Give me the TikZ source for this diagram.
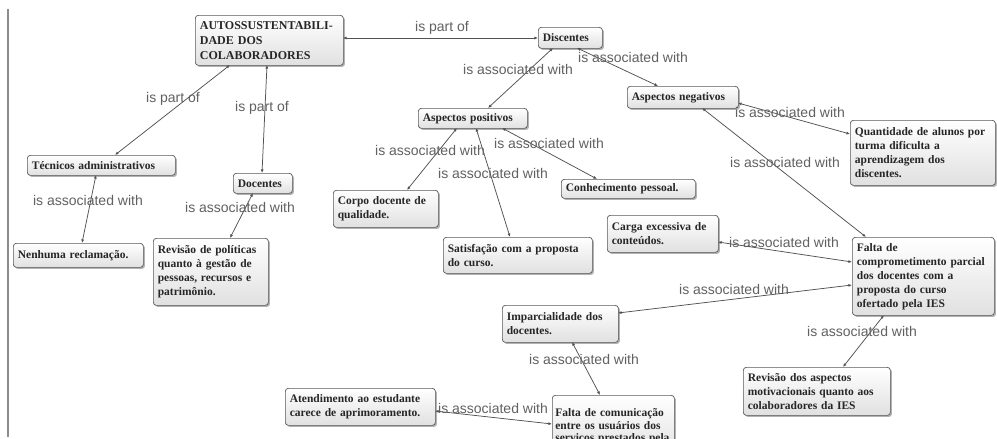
\documentclass[tikz,border=0pt]{standalone}
\usepackage{fontspec}
\setmainfont{Liberation Serif}
\newfontfamily\labfont{Liberation Sans}
\usetikzlibrary{shadows,calc,arrows.meta}
\tikzset{
  concept/.style={draw=black!65, line width=0.7pt, rounded corners=3pt,
    top color=white, bottom color=black!12,
    drop shadow={shadow xshift=1.6pt, shadow yshift=-1.6pt, opacity=0.55, fill=black!55},
    font=\fontsize{11.5}{14}\selectfont\bfseries, align=left,
    inner xsep=4pt, inner ysep=3pt, anchor=north west, text=black!85},
  lab/.style={font=\labfont\fontsize{14}{16}\selectfont, text=black!62, inner sep=0pt},
  conn/.style={draw=black!68, line width=0.75pt,
    {Latex[length=3.6pt,width=3pt]}-{Latex[length=3.6pt,width=3pt]}}
}
\begin{document}
\begin{tikzpicture}[x=1pt,y=-1pt]
\useasboundingbox (0,0) rectangle (997,439);
\clip (0,0) rectangle (997,439);
\fill[white] (0,0) rectangle (997,439);
\draw[black!45, line width=1.2pt] (8,9) -- (8,437);

% concepts
\node[concept, text width=139pt, minimum width=148pt, minimum height=50pt,
  font=\fontsize{12}{15}\selectfont\bfseries] (auto) at (195,15)
  {AUTOSSUSTENTABILI-\\DADE DOS\\COLABORADORES};
\node[concept, text width=55pt, minimum width=64pt, minimum height=21pt] (disc) at (538,27) {Discentes};
\node[concept, text width=100pt, minimum width=109pt, minimum height=20pt] (apos) at (418,108) {Aspectos positivos};
\node[concept, text width=102pt, minimum width=111pt, minimum height=22pt] (aneg) at (627,86) {Aspectos negativos};
\node[concept, text width=136pt, minimum width=145pt, minimum height=65pt] (quant) at (850,120)
  {Quantidade de alunos por\\turma dificulta a\\aprendizagem dos\\discentes.};
\node[concept, text width=139pt, minimum width=148pt, minimum height=20pt] (tec) at (27,155) {Técnicos administrativos};
\node[concept, text width=50pt, minimum width=59pt, minimum height=20pt] (doc) at (233,173) {Docentes};
\node[concept, text width=121pt, minimum width=130pt, minimum height=24pt] (nenh) at (13,243) {Nenhuma reclamação.};
\node[concept, text width=106pt, minimum width=115pt, minimum height=67pt] (revpol) at (153,238)
  {Revisão de políticas\\quanto à gestão de\\pessoas, recursos e\\patrimônio.};
\node[concept, text width=96pt, minimum width=105pt, minimum height=37pt] (corpo) at (333,190)
  {Corpo docente de\\qualidade.};
\node[concept, text width=140pt, minimum width=149pt, minimum height=36pt] (satis) at (443,237)
  {Satisfação com a proposta\\do curso.};
\node[concept, text width=125pt, minimum width=134pt, minimum height=19pt] (conhec) at (561,179) {Conhecimento pessoal.};
\node[concept, text width=102pt, minimum width=111pt, minimum height=37pt] (carga) at (607,215)
  {Carga excessiva de\\conteúdos.};
\node[concept, text width=133pt, minimum width=142pt, minimum height=78pt] (fcomp) at (852,237)
  {Falta de\\comprometimento parcial\\dos docentes com a\\proposta do curso\\ofertado pela IES};
\node[concept, text width=107pt, minimum width=116pt, minimum height=37pt] (impar) at (502,305)
  {Imparcialidade dos\\docentes.};
\node[concept, text width=141pt, minimum width=150pt, minimum height=37pt] (atend) at (285,388)
  {Atendimento ao estudante\\carece de aprimoramento.};
\node[concept, inner xsep=2.5pt, inner ysep=2pt, text width=116pt, minimum width=122pt, minimum height=62pt,
  font=\fontsize{11.5}{12.8}\selectfont\bfseries] (fcom) at (552,395)
  {Falta de comunicação\\entre os usuários dos\\serviços prestados pela};
\node[concept, text width=138pt, minimum width=147pt, minimum height=48pt] (revasp) at (743,367)
  {Revisão dos aspectos\\motivacionais quanto aos\\colaboradores da IES};

% connectors
\draw[conn] ($(disc.north west)+(0,11)$) -- ($(auto.north west)+(148,23)$);
\draw[conn] ($(tec.north west)+(88,0)$) -- ($(auto.north west)+(35,50)$);
\draw[conn] ($(doc.north west)+(29,0)$) -- ($(auto.north west)+(72,50)$);
\draw[conn] ($(disc.north west)+(15,21)$) -- ($(apos.north west)+(70,0)$);
\draw[conn] ($(disc.north west)+(39,21)$) -- ($(aneg.north west)+(31,0)$);
\draw[conn] ($(aneg.north west)+(111,17)$) -- ($(quant.north west)+(0,14)$);
\draw[conn] ($(aneg.north west)+(75,22)$) -- ($(fcomp.north west)+(14,0)$);
\draw[conn] ($(apos.north west)+(39,20)$) -- ($(corpo.north west)+(74,0)$);
\draw[conn] ($(apos.north west)+(58,20)$) -- ($(satis.north west)+(67,0)$);
\draw[conn] ($(apos.north west)+(84,20)$) -- ($(conhec.north west)+(36,0)$);
\draw[conn] ($(tec.north west)+(69,20)$) -- ($(nenh.north west)+(69,0)$);
\draw[conn] ($(doc.north west)+(20,20)$) -- ($(revpol.north west)+(77,0)$);
\draw[conn] ($(carga.north west)+(111,27)$) -- ($(fcomp.north west)+(0,25)$);
\draw[conn] ($(fcomp.north west)+(0,48)$) -- ($(impar.north west)+(116,8)$);
\draw[conn] ($(fcomp.north west)+(32,78)$) -- ($(revasp.north west)+(100,0)$);
\draw[conn] ($(impar.north west)+(70,37)$) -- ($(fcom.north west)+(48,0)$);
\draw[conn] ($(atend.north west)+(150,23)$) -- ($(fcom.north west)+(0,29)$);

% linking phrases
\node[lab] (l1) at (442,28) {is part of};
\node[lab] (l2) at (173,99) {is part of};
\node[lab] (l3) at (262,108) {is part of};
\node[lab] (l4) at (518,69) {is associated with};
\node[lab] (l5) at (633,57) {is associated with};
\node[lab] (l6) at (790,112) {is associated with};
\node[lab] (l7) at (785,162) {is associated with};
\node[lab] (l8) at (430,150) {is associated with};
\node[lab] (l9) at (493,173) {is associated with};
\node[lab] (l10) at (549,143) {is associated with};
\node[lab] (l11) at (88,200) {is associated with};
\node[lab] (l12) at (240,207) {is associated with};
\node[lab] (l13) at (784,242) {is associated with};
\node[lab] (l14) at (734,289) {is associated with};
\node[lab] (l15) at (862,331) {is associated with};
\node[lab] (l16) at (584,359) {is associated with};
\node[lab] (l17) at (493,408) {is associated with};
\end{tikzpicture}
\end{document}
